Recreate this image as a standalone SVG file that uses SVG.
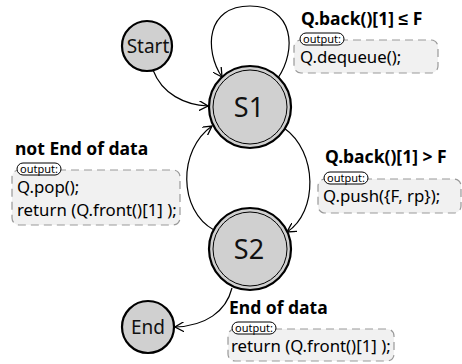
<svg xmlns="http://www.w3.org/2000/svg" width="462" height="364" viewBox="0 0 462 364">
<defs>
<marker id="arr" viewBox="0 0 10 10" refX="9" refY="5" markerWidth="10" markerHeight="10" markerUnits="userSpaceOnUse" orient="auto">
<path d="M0,0 L9,5 L0,10" fill="none" stroke="#000" stroke-width="1.3"/>
</marker>
<style>
.st{fill:#d0d0d0;stroke:#000;stroke-width:2.2}
.in{fill:none;stroke:#000;stroke-width:1}
.nt{font-family:"Noto Sans","Liberation Sans",sans-serif;font-size:19px;text-anchor:middle;fill:#111}
.big{font-size:27px}
.e{fill:none;stroke:#000;stroke-width:1.2;marker-end:url(#arr)}
.lb{font-family:"Noto Sans","Liberation Sans",sans-serif;font-size:17.5px;font-weight:bold;fill:#000}
.box{fill:#f1f1f1;stroke:#999;stroke-width:1.2;stroke-dasharray:8,5}
.pill{fill:#fff;stroke:#000;stroke-width:1}
.pt{font-family:"Noto Sans","Liberation Sans",sans-serif;font-size:11px;fill:#000}
.ct{font-family:"Noto Sans","Liberation Sans",sans-serif;font-size:16.8px;fill:#000}
</style>
</defs>
<g id="connectors">
<path class="e" d="M153,70 C162,94 185,105 208,106"/>
<path class="e" d="M278,78 C297,50 294,6 250,6 C206,6 204,50 222,77"/>
<path class="e" d="M284,128 C318,152 318,212 287,232"/>
<path class="e" d="M214,230 C178,210 178,150 212,126"/>
<path class="e" d="M232,288 C226,312 205,326 175,327"/>
</g>
<g id="start"><circle class="st" cx="147" cy="46" r="25"/><text class="nt" x="148" y="53">Start</text></g>
<g id="s1"><circle class="st" cx="250" cy="107" r="41"/><circle class="in" cx="250" cy="107" r="37"/><text class="nt big" x="249" y="117">S1</text></g>
<g id="s2"><circle class="st" cx="250" cy="249" r="41"/><circle class="in" cx="250" cy="249" r="37"/><text class="nt big" x="249" y="259">S2</text></g>
<g id="end"><circle class="st" cx="148" cy="327" r="26"/><text class="nt" x="148" y="334">End</text></g>
<g id="lbl1">
<text class="lb" x="301" y="25">Q.back()[1] ≤ F</text>
<rect class="box" x="294" y="40" width="144" height="33" rx="7"/>
<rect class="pill" x="300" y="33" width="44" height="12" rx="6"/>
<text class="pt" x="303" y="42.5">output:</text>
<text class="ct" x="300" y="63">Q.dequeue();</text>
</g>
<g id="lbl2">
<text class="lb" x="325" y="163">Q.back()[1] &gt; F</text>
<rect class="box" x="318" y="179" width="143" height="34" rx="7"/>
<rect class="pill" x="324" y="172" width="44" height="12" rx="6"/>
<text class="pt" x="327" y="181.5">output:</text>
<text class="ct" x="323" y="202">Q.push({F, rp});</text>
</g>
<g id="lbl3">
<text class="lb" x="15" y="155">not End of data</text>
<rect class="box" x="12" y="170" width="168" height="55" rx="7"/>
<rect class="pill" x="17" y="163" width="44" height="12" rx="6"/>
<text class="pt" x="20" y="172.5">output:</text>
<text class="ct" x="17" y="193">Q.pop();</text>
<text class="ct" x="17" y="216">return (Q.front()[1] );</text>
</g>
<g id="lbl4">
<text class="lb" x="229" y="314">End of data</text>
<rect class="box" x="228" y="329" width="166" height="32" rx="7"/>
<rect class="pill" x="232" y="322" width="44" height="12" rx="6"/>
<text class="pt" x="235" y="331.5">output:</text>
<text class="ct" x="231" y="352">return (Q.front()[1] );</text>
</g>
</svg>
